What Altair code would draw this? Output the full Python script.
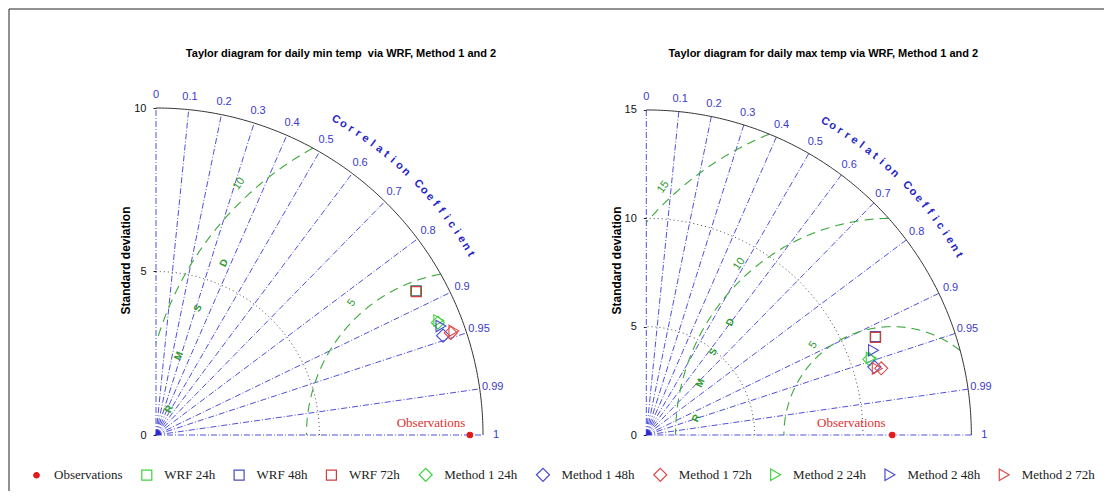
import numpy as np
import pandas as pd
import altair as alt

# ---------------- data ----------------
SERIES = ["Observations", "WRF 24h", "WRF 48h", "WRF 72h",
          "Method 1 24h", "Method 1 48h", "Method 1 72h",
          "Method 2 24h", "Method 2 48h", "Method 2 72h"]
STROKES = ["#e41a1a", "#3fd23f", "#4b4bc0", "#cc4040",
           "#3fd23f", "#4b4bd0", "#e04848",
           "#3fd23f", "#4b4bd0", "#e04848"]
FILLS = ["#e41a1a"] + ["transparent"] * 9
SHAPES = ["circle", "square", "square", "square",
          "diamond", "diamond", "diamond",
          "triangle-right", "triangle-right", "triangle-right"]
SIZES = [30, 100, 100, 100, 170, 170, 170, 130, 130, 130]
MODELS = SERIES[1:]

# daily min temp
MIN_TITLE = "Taylor diagram for daily min temp \u00a0via WRF, Method 1 and 2"
MIN_RMAX = 10
MIN_OBS_STD = 9.6
MIN_STD = [9.08, 9.10, 9.09, 9.28, 9.29, 9.54, 9.33, 9.33, 9.65]
MIN_CORR = [0.874, 0.875, 0.876, 0.929, 0.945, 0.945, 0.927, 0.934, 0.944]
MIN_YTICKS = [0, 5, 10]
MIN_SD_DOTTED = [5]
MIN_RMS_LEVELS = [5, 10]
MIN_RMS_LABELS = ["5", "10"]
MIN_RMS_LABEL_X = [5.99, 2.54]
MIN_RMS_LABEL_Y = [4.04, 7.68]
MIN_RMSD_X = [0.40, 0.70, 1.28, 2.08]
MIN_RMSD_Y = [0.80, 2.42, 3.88, 5.26]
MIN_OBS_LABEL_XY = [8.41, 0.37]

# daily max temp
MAX_TITLE = "Taylor diagram for daily max temp via WRF, Method 1 and 2"
MAX_RMAX = 15
MAX_OBS_STD = 11.35
MAX_STD = [11.49, 11.51, 11.50, 10.87, 10.98, 11.27, 10.97, 11.19, 11.09]
MAX_CORR = [0.919, 0.919, 0.920, 0.947, 0.958, 0.962, 0.946, 0.937, 0.961]
MAX_YTICKS = [0, 5, 10, 15]
MAX_SD_DOTTED = [5, 10]
MAX_RMS_LEVELS = [5, 10, 15]
MAX_RMS_LABELS = ["5", "10", "15"]
MAX_RMS_LABEL_X = [7.71, 4.29, 0.78]
MAX_RMS_LABEL_Y = [4.15, 7.89, 11.44]
MAX_RMSD_X = [2.31, 2.49, 3.09, 3.88]
MAX_RMSD_Y = [0.78, 2.40, 3.83, 5.21]
MAX_OBS_LABEL_XY = [9.46, 0.55]

CORR_TICKS = [0, 0.1, 0.2, 0.3, 0.4, 0.5, 0.6, 0.7, 0.8, 0.9, 0.95, 0.99, 1]
CORR_TICK_LABELS = ["0", "0.1", "0.2", "0.3", "0.4", "0.5", "0.6", "0.7",
                    "0.8", "0.9", "0.95", "0.99", "1"]
CORR_TITLE = "Correlation Coefficient"
RMSD_LETTERS = ["R", "M", "S", "D"]

# ---------------- styling ----------------
SANS = "Liberation Sans"
SERIF = "Liberation Serif"
BLUE_LINE = "#5050dc"
BLUE_TEXT = "#3a3acb"
GREEN_LINE = "#3aa83a"
GREEN_TEXT = "#2f9a2f"
PX_PER_UNIT_MIN = 32.7
PX_PER_UNIT_MAX = 21.67
H = 350


def panel(title, R, obs, stds, corrs, yticks, sd_levels, rms_levels,
          rms_labels, rms_lx, rms_ly, rmsd_x, rmsd_y, obs_lab, W, xmax, ymax,
          title_cx, border=False, legend=False):
    xs = alt.X("x:Q", scale=alt.Scale(domain=[0, xmax], nice=False, zero=False), axis=None)
    ys = alt.Y("y:Q", scale=alt.Scale(domain=[0, ymax], nice=False, zero=False),
               axis=alt.Axis(values=yticks, domain=False, grid=False, ticks=True,
                             tickSize=3, tickColor="#222", labelPadding=7,
                             labelFont=SANS, labelFontSize=11, labelColor="#111",
                             title="Standard deviation", titleFont=SANS,
                             titleFontSize=12, titleFontWeight="bold",
                             titleColor="#000", titlePadding=1))

    t = np.linspace(0, np.pi / 2, 181)
    arc = pd.DataFrame({"x": R * np.cos(t), "y": R * np.sin(t), "i": np.arange(t.size)})

    sd_rows = []
    for lv in sd_levels:
        for i, a in enumerate(t):
            sd_rows.append({"k": lv, "i": i, "x": lv * np.cos(a), "y": lv * np.sin(a)})
    sd_df = pd.DataFrame(sd_rows)

    ray_rows = []
    for c in CORR_TICKS:
        a = np.arccos(c)
        ray_rows.append({"k": c, "i": 0, "x": 0.0, "y": 0.0})
        ray_rows.append({"k": c, "i": 1, "x": R * np.cos(a), "y": R * np.sin(a)})
    ray_df = pd.DataFrame(ray_rows)

    rms_rows = []
    phi = np.linspace(0, np.pi, 1441)
    for k in rms_levels:
        xx = obs + k * np.cos(phi)
        yy = k * np.sin(phi)
        m = (xx >= 0) & (xx ** 2 + yy ** 2 <= R * R * 1.0001)
        for i, (a, b) in enumerate(zip(xx[m], yy[m])):
            rms_rows.append({"k": k, "i": i, "x": a, "y": b})
    rms_df = pd.DataFrame(rms_rows)

    lab_r = 1.04 * R
    ang = np.arccos(np.array(CORR_TICKS))
    clab = pd.DataFrame({"x": lab_r * np.cos(ang), "y": lab_r * np.sin(ang),
                         "t": CORR_TICK_LABELS})

    n = len(CORR_TITLE)
    th = np.radians(60.3 - np.arange(n) * (30.4 / (n - 1)))
    ct_r = 1.11 * R
    ctitle = pd.DataFrame({"x": ct_r * np.cos(th), "y": ct_r * np.sin(th),
                           "t": list(CORR_TITLE), "rot": 90 - np.degrees(th)})
    ctitle = ctitle[ctitle.t != " "]

    rmsl = pd.DataFrame({"x": rms_lx, "y": rms_ly, "t": rms_labels})
    rmsd = pd.DataFrame({"x": rmsd_x, "y": rmsd_y, "t": RMSD_LETTERS})
    obsl = pd.DataFrame({"x": [obs_lab[0]], "y": [obs_lab[1]], "t": ["Observations"]})
    ttl = pd.DataFrame({"t": [title]})

    a = np.arccos(np.array(corrs))
    pts = pd.DataFrame({"series": MODELS, "x": np.array(stds) * np.cos(a),
                        "y": np.array(stds) * np.sin(a)})
    pts = pd.concat([pts, pd.DataFrame({"series": ["Observations"], "x": [obs], "y": [0.0]})],
                    ignore_index=True)

    layers = [
        alt.Chart(sd_df).mark_line(color="#444", strokeWidth=1, strokeDash=[1, 3]).encode(
            x=xs, y=ys, detail="k:N", order="i:Q"),
        alt.Chart(ray_df).mark_line(color=BLUE_LINE, strokeWidth=1, strokeDash=[6, 2, 1, 2]).encode(
            x=xs, y=ys, detail="k:N", order="i:Q"),
        alt.Chart(rms_df).mark_line(color=GREEN_LINE, strokeWidth=1.1, strokeDash=[9, 6]).encode(
            x=xs, y=ys, detail="k:N", order="i:Q"),
        alt.Chart(arc).mark_line(color="#333", strokeWidth=1).encode(x=xs, y=ys, order="i:Q"),
        alt.Chart(pd.DataFrame({"x": [0.0], "y": [0.0]})).mark_arc(
            color="#2b2bd0", radius=5, theta=0, theta2=1.5708).encode(x=xs, y=ys),
        alt.Chart(clab).mark_text(font=SANS, fontSize=11, color=BLUE_TEXT,
                                  align="center", baseline="middle").encode(x=xs, y=ys, text="t:N"),
        alt.Chart(ctitle).mark_text(font=SANS, fontSize=11, fontWeight="bold", color="#2525c8",
                                    align="center", baseline="middle").encode(
            x=xs, y=ys, text="t:N", angle=alt.Angle("rot:Q", scale=None)),
        alt.Chart(rmsl).mark_text(font=SANS, fontSize=11, color=GREEN_TEXT, angle=305,
                                  align="center", baseline="middle").encode(x=xs, y=ys, text="t:N"),
        alt.Chart(rmsd).mark_text(font=SANS, fontSize=10, fontWeight="bold", color=GREEN_TEXT,
                                  angle=295, align="center", baseline="middle").encode(
            x=xs, y=ys, text="t:N"),
        alt.Chart(obsl).mark_text(font=SERIF, fontSize=13, color="#e03030",
                                  align="center", baseline="middle").encode(x=xs, y=ys, text="t:N"),
        alt.Chart(ttl).mark_text(font=SANS, fontSize=11, fontWeight="bold", color="#000",
                                 align="center", baseline="middle").encode(
            x=alt.value(title_cx), y=alt.value(-31), text="t:N"),
    ]

    leg = None
    if legend:
        leg = alt.Legend(orient="none", legendX=-126, legendY=382, direction="horizontal",
                         title=None, labelFont=SERIF, labelFontSize=13, labelColor="#222",
                         symbolStrokeWidth=1.2, columnPadding=16.3,
                         labelOffset=11, padding=0)
    enc_kwargs = dict(
        shape=alt.Shape("series:N", scale=alt.Scale(domain=SERIES, range=SHAPES), legend=leg),
        stroke=alt.Stroke("series:N", scale=alt.Scale(domain=SERIES, range=STROKES), legend=leg),
        fill=alt.Fill("series:N", scale=alt.Scale(domain=SERIES, range=FILLS), legend=leg),
        size=alt.Size("series:N", scale=alt.Scale(type="ordinal", domain=SERIES, range=SIZES),
                      legend=leg),
    )
    layers.append(
        alt.Chart(pts).mark_point(strokeWidth=1.1, opacity=1).encode(x=xs, y=ys, **enc_kwargs)
    )

    if border:
        bd = pd.DataFrame({"x": [0.0], "y": [0.0]})
        layers.append(alt.Chart(bd).mark_rule(color="#222", strokeWidth=1).encode(
            x=alt.value(-147), y=alt.value(-76), y2=alt.value(406)))
        layers.append(alt.Chart(bd).mark_rule(color="#222", strokeWidth=1).encode(
            x=alt.value(-147), x2=alt.value(948), y=alt.value(-76)))

    return alt.layer(*layers).properties(width=W, height=H)


W_MIN = 359.7
W_MAX = 358
left = panel(MIN_TITLE, MIN_RMAX, MIN_OBS_STD, MIN_STD, MIN_CORR, MIN_YTICKS, MIN_SD_DOTTED,
             MIN_RMS_LEVELS, MIN_RMS_LABELS, MIN_RMS_LABEL_X, MIN_RMS_LABEL_Y,
             MIN_RMSD_X, MIN_RMSD_Y, MIN_OBS_LABEL_XY, W_MIN, W_MIN / PX_PER_UNIT_MIN,
             H / PX_PER_UNIT_MIN, 185, border=True, legend=True)
right = panel(MAX_TITLE, MAX_RMAX, MAX_OBS_STD, MAX_STD, MAX_CORR, MAX_YTICKS, MAX_SD_DOTTED,
              MAX_RMS_LEVELS, MAX_RMS_LABELS, MAX_RMS_LABEL_X, MAX_RMS_LABEL_Y,
              MAX_RMSD_X, MAX_RMSD_Y, MAX_OBS_LABEL_XY, W_MAX, W_MAX / PX_PER_UNIT_MAX,
              H / PX_PER_UNIT_MAX, 177, legend=True)

chart = alt.hconcat(left, right, spacing=490 - W_MIN, bounds="flush").resolve_scale(
    shape="shared", stroke="shared", fill="shared", size="shared"
).properties(padding=0, background="white").configure_view(strokeWidth=0)

chart.save("out.html", embed_options={"renderer": "svg", "actions": False})
